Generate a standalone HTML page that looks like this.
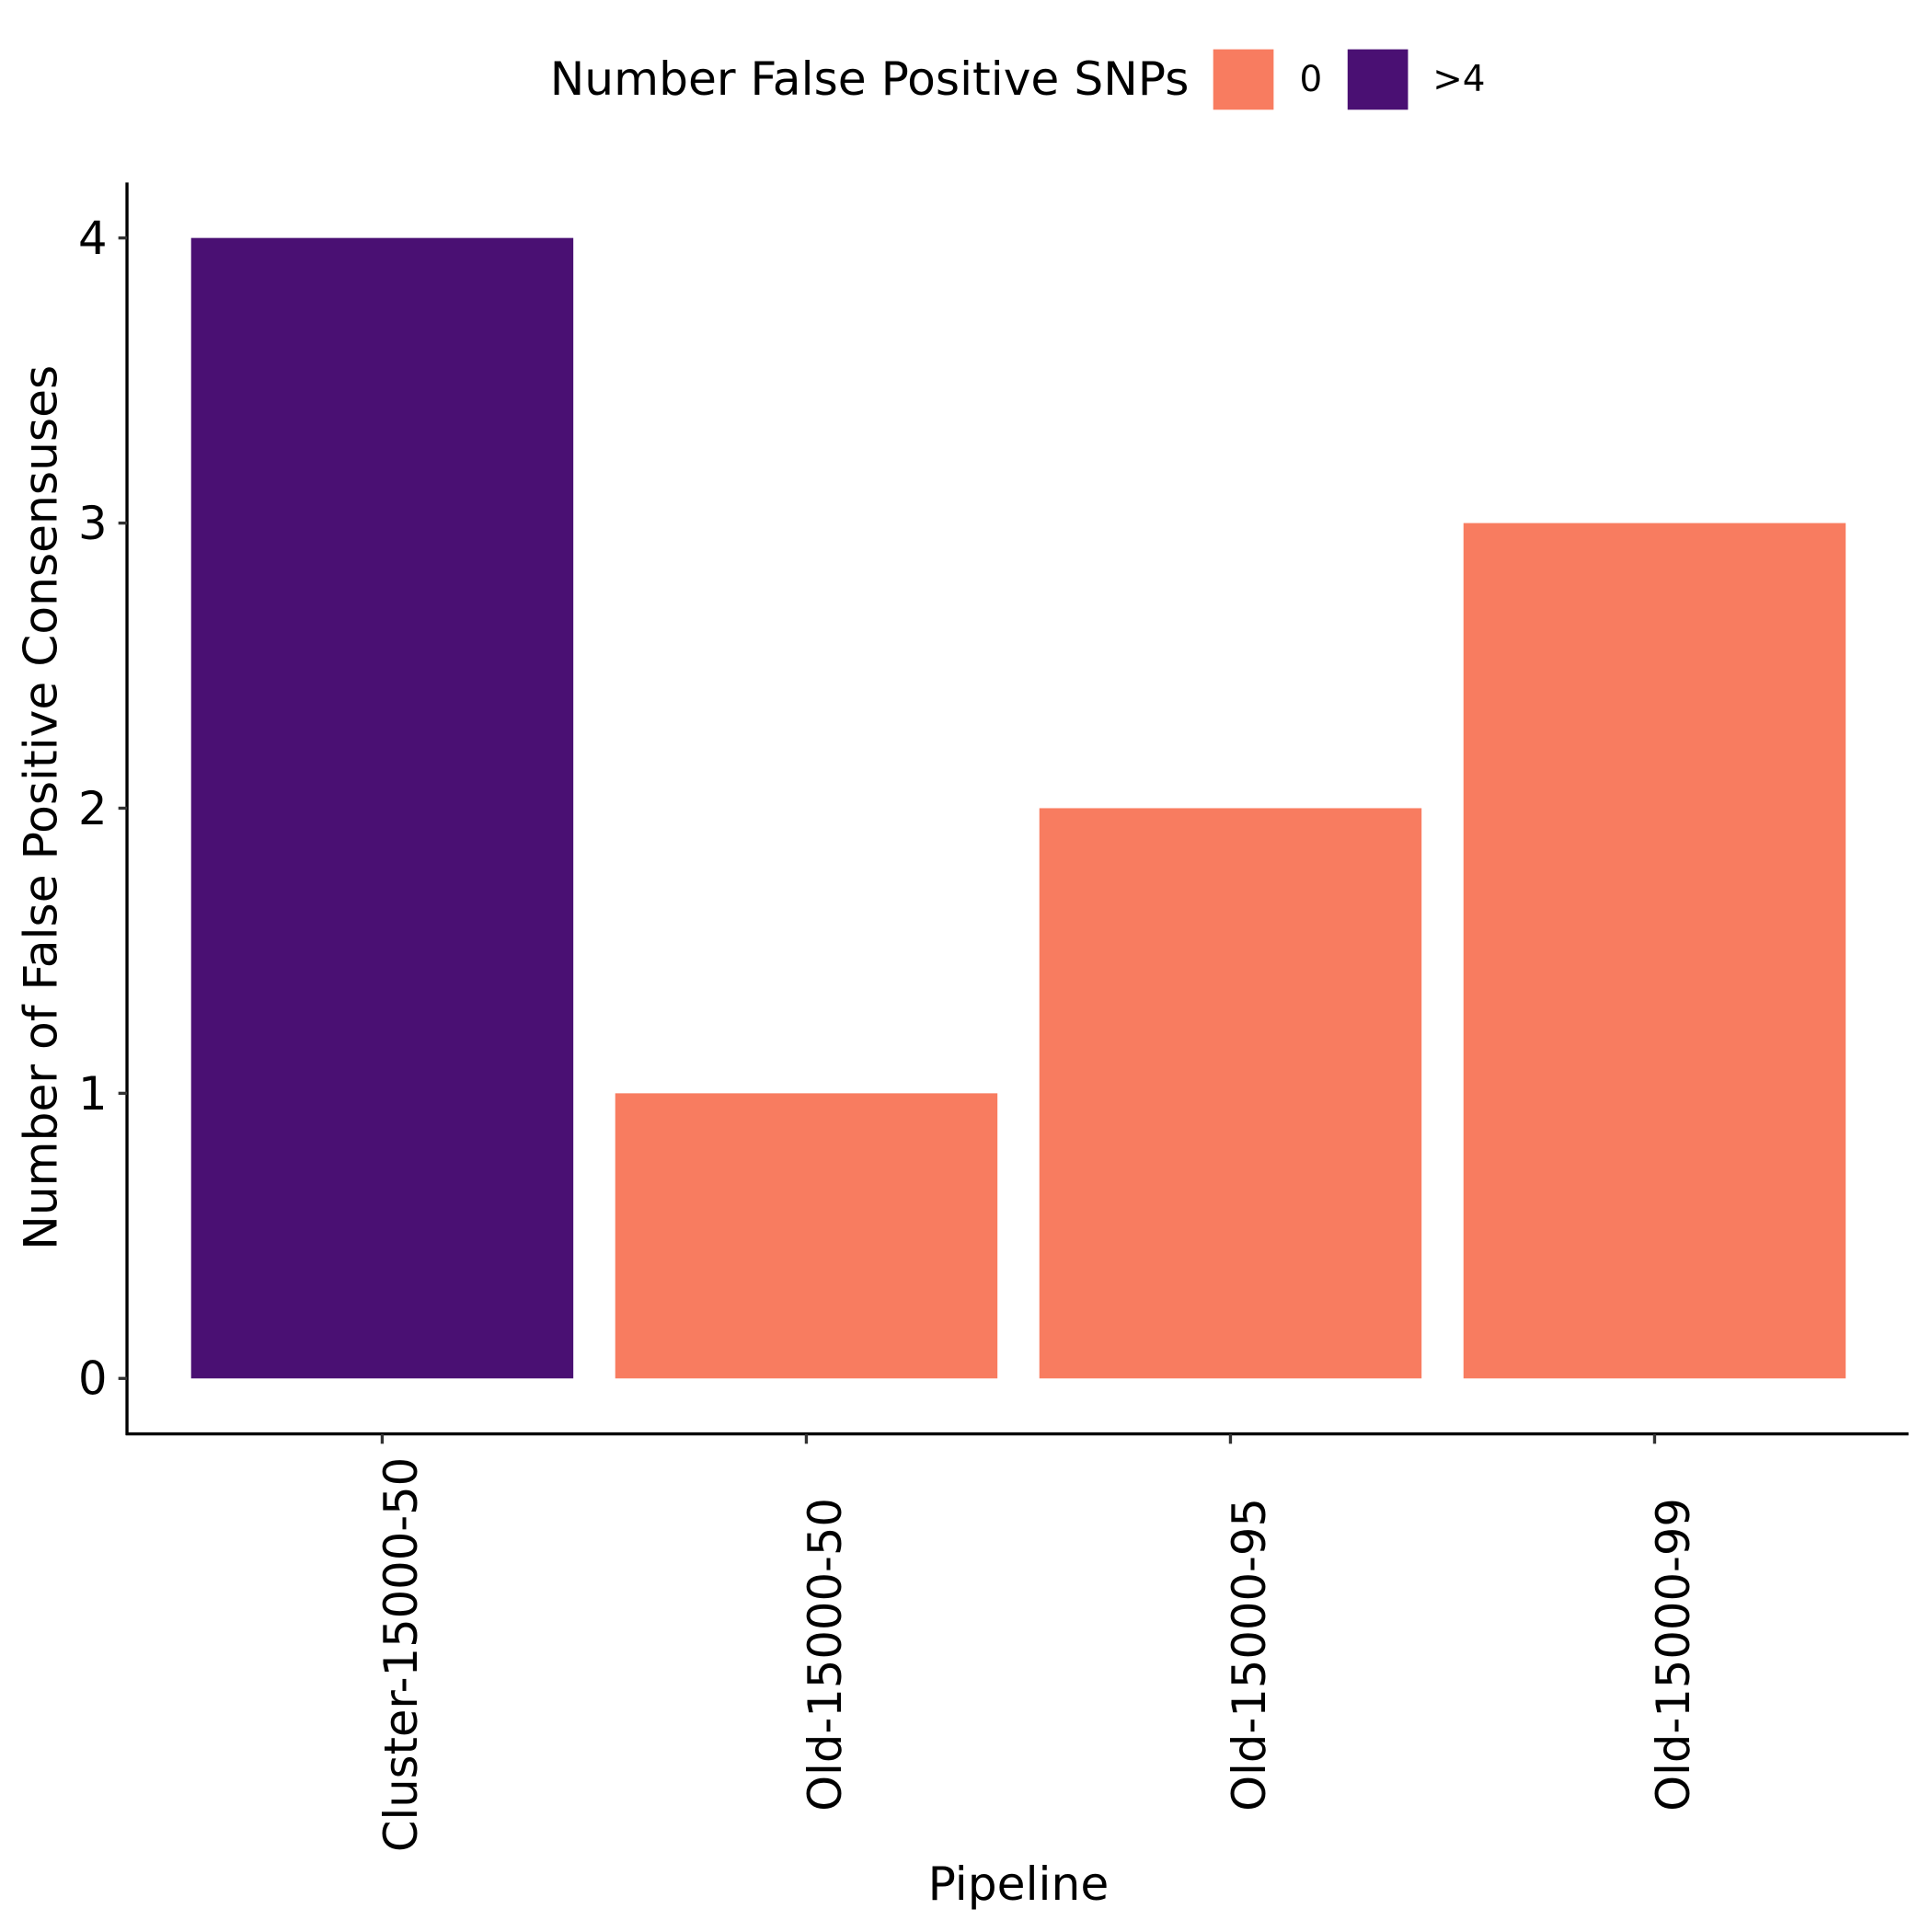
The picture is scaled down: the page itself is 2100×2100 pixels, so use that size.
<!DOCTYPE html>
<html><head><meta charset="utf-8"><style>html,body{margin:0;padding:0;background:#fff}svg{display:block}text{font-family:"DejaVu Sans","Liberation Sans",sans-serif;fill:#000}</style></head>
<body>
<svg id="chart" width="2100" height="2100" viewBox="0 0 1567 1567" xmlns="http://www.w3.org/2000/svg">
<g>
<text x="446" y="77" font-size="37.5">Number False Positive SNPs</text>
<rect x="984" y="40" width="49" height="49" fill="#F87C60"/>
<text x="1054" y="74" font-size="29">0</text>
<rect x="1093" y="40" width="49" height="49" fill="#4A1073"/>
<text x="1162" y="74" font-size="29">&gt;4</text>
</g>
<g id="bars"></g>
<g id="axes"></g>
<text x="826" y="1541" font-size="37.5" text-anchor="middle">Pipeline</text>
<text transform="translate(46,655) rotate(-90)" font-size="37.5" text-anchor="middle">Number of False Positive Consensuses</text>
</svg>
<script>
const categories = ["Cluster-15000-50","Old-15000-50","Old-15000-95","Old-15000-99"];
const values = [4,1,2,3];
const groups = [">4","0","0","0"];
const yTicks = [0,1,2,3,4];
const colors = {"0":"#F87C60",">4":"#4A1073"};
const NS="http://www.w3.org/2000/svg";
const y = v => 1118 - v*231.25;
const xc = i => 310 + i*344;
const bw = 310;
const bars=document.getElementById('bars'), axes=document.getElementById('axes');
function mk(tag,attrs,parent){const e=document.createElementNS(NS,tag);for(const k in attrs)e.setAttribute(k,attrs[k]);parent.appendChild(e);return e;}
values.forEach((v,i)=>{
  const r=mk('rect',{x:xc(i)-bw/2,y:y(v),width:bw,height:y(0)-y(v),fill:colors[groups[i]]},bars);
  
  
});
const yl=mk('line',{x1:103,y1:148,x2:103,y2:1164,stroke:'#000','stroke-width':2.5},axes);


const xl=mk('line',{x1:102,y1:1163,x2:1548,y2:1163,stroke:'#000','stroke-width':2.5},axes);


yTicks.forEach(t=>{
  const tk=mk('line',{x1:96,y1:y(t),x2:103,y2:y(t),stroke:'#333','stroke-width':2.5},axes);
  
  
  const tx=mk('text',{x:87,y:y(t)+13,'font-size':37,'text-anchor':'end'},axes);
  tx.textContent=t;
  
  
});
categories.forEach((c,i)=>{
  const tk=mk('line',{x1:xc(i),y1:1163,x2:xc(i),y2:1171,stroke:'#333','stroke-width':2.5},axes);
  
  
  const tx=mk('text',{transform:`translate(${xc(i)+28},1342) rotate(-90)`,'font-size':37,'text-anchor':'middle'},axes);
  tx.textContent=c;
  
  
});
</script>
</body></html>
